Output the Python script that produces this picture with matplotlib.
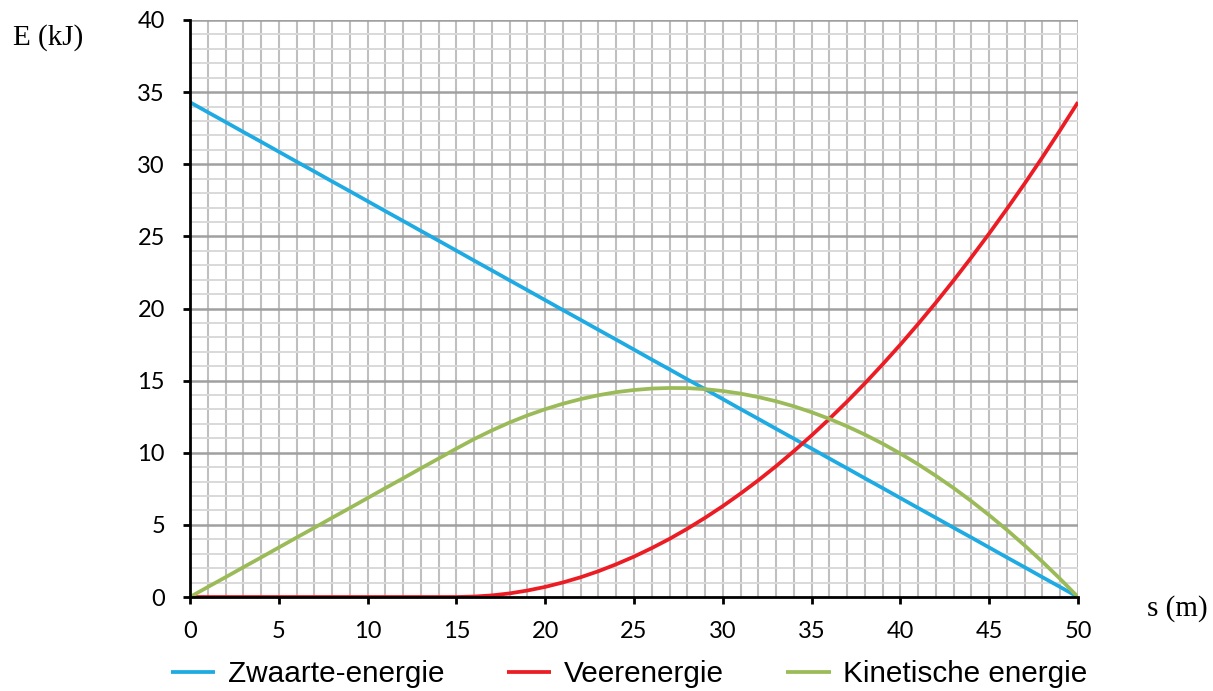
import matplotlib
matplotlib.use("Agg")
import matplotlib.pyplot as plt
import numpy as np

# afstand s (m), elke meter
s = list(range(0, 51))

# energie (kJ)
zwaarte = [34.3, 33.61, 32.93, 32.24, 31.56, 30.87, 30.18, 29.5, 28.81, 28.13,
           27.44, 26.75, 26.07, 25.38, 24.7, 24.01, 23.32, 22.64, 21.95, 21.27,
           20.58, 19.89, 19.21, 18.52, 17.84, 17.15, 16.46, 15.78, 15.09, 14.41,
           13.72, 13.03, 12.35, 11.66, 10.98, 10.29, 9.6, 8.92, 8.23, 7.55,
           6.86, 6.17, 5.49, 4.8, 4.12, 3.43, 2.74, 2.06, 1.37, 0.69, 0.0]
veer = [0.0, 0.0, 0.0, 0.0, 0.0, 0.0, 0.0, 0.0, 0.0, 0.0,
        0.0, 0.0, 0.0, 0.0, 0.0, 0.0, 0.03, 0.11, 0.25, 0.45,
        0.7, 1.01, 1.37, 1.79, 2.27, 2.8, 3.39, 4.03, 4.73, 5.49,
        6.3, 7.17, 8.09, 9.07, 10.11, 11.2, 12.35, 13.55, 14.81, 16.13,
        17.5, 18.93, 20.41, 21.95, 23.55, 25.2, 26.91, 28.67, 30.49, 32.37, 34.3]
kinetisch = [0.0, 0.69, 1.37, 2.06, 2.74, 3.43, 4.12, 4.8, 5.49, 6.17,
             6.86, 7.55, 8.23, 8.92, 9.6, 10.29, 10.95, 11.55, 12.1, 12.59,
             13.02, 13.4, 13.72, 13.99, 14.2, 14.35, 14.45, 14.49, 14.48, 14.41,
             14.28, 14.1, 13.86, 13.57, 13.22, 12.81, 12.35, 11.83, 11.26, 10.63,
             9.94, 9.2, 8.4, 7.55, 6.64, 5.67, 4.65, 3.57, 2.44, 1.25, 0.0]

labels = ["Zwaarte-energie", "Veerenergie", "Kinetische energie"]
kleuren = ["#1eaae2", "#ec1c24", "#9bbb59"]

plt.rcParams["font.family"] = "Lato"

fig = plt.figure(figsize=(12.13, 6.91), dpi=100)
ax = fig.add_axes([190 / 1213, 1 - 597 / 691, (1078 - 190) / 1213, (597 - 20) / 691])

# raster
for x in range(1, 51):
    ax.axvline(x, color="#bfbfbf", lw=1.5, zorder=1)
for y in range(1, 41):
    if y % 5 == 0:
        ax.axhline(y, color="#a0a0a0", lw=1.8, zorder=1.2)
    else:
        ax.axhline(y, color="#d9d9d9", lw=1.4, zorder=1.1)

for data, lab, kl in zip([zwaarte, veer, kinetisch], labels, kleuren):
    ax.plot(s, data, color=kl, lw=2.7, label=lab, zorder=3, solid_capstyle="butt")

ax.set_xlim(0, 50)
ax.set_ylim(0, 40)
ax.set_xticks(np.arange(0, 51, 5))
ax.set_yticks(np.arange(0, 41, 5))
for sp in ["top", "right"]:
    ax.spines[sp].set_visible(False)
for sp in ["left", "bottom"]:
    ax.spines[sp].set_linewidth(2.0)
    ax.spines[sp].set_zorder(4)
ax.tick_params(direction="out", length=5, width=2.0, labelsize=17, color="black")
ax.tick_params(axis="x", pad=12)
ax.tick_params(axis="y", pad=13)

fig.text(48 / 1213, 1 - 38 / 691, "E (kJ)", family="Liberation Serif", fontsize=21,
         ha="center", va="center")
fig.text(1177 / 1213, 1 - 609 / 691, "s (m)", family="Liberation Serif", fontsize=21,
         ha="center", va="center")

fig.legend(loc="center", bbox_to_anchor=(629 / 1213, 1 - 674 / 691), ncol=3,
           frameon=False, prop={"family": "Liberation Sans", "size": 21.4},
           handlelength=1.5, handletextpad=0.42, columnspacing=2.1,
           borderpad=0, borderaxespad=0)

fig.savefig("out.png", dpi=100)
